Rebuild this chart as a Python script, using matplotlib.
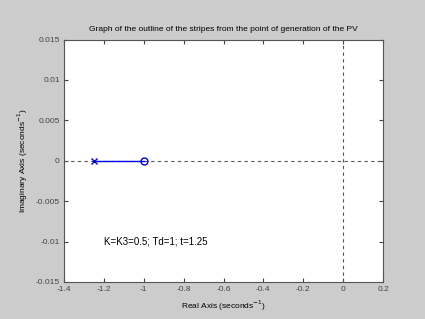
import matplotlib
matplotlib.use("Agg")
import matplotlib.pyplot as plt

# pole / zero data
pole_re = [-1.25]
pole_im = [0.0]
zero_re = [-1.0]
zero_im = [0.0]
locus_re = [-1.25, -1.0]
locus_im = [0.0, 0.0]

x_ticks = [-1.4, -1.2, -1, -0.8, -0.6, -0.4, -0.2, 0, 0.2]
x_labels = ["-1.4", "-1.2", "-1", "-0.8", "-0.6", "-0.4", "-0.2", "0", "0.2"]
y_ticks = [-0.015, -0.01, -0.005, 0, 0.005, 0.01, 0.015]
y_labels = ["-0.015", "-0.01", "-0.005", "0", "0.005", "0.01", "0.015"]

note = "K=K3=0.5; Td=1; t=1.25"

plt.rcParams['font.family'] = ['Liberation Sans', 'DejaVu Sans']

fig = plt.figure(figsize=(4.25, 3.19), dpi=100, facecolor='#cccccc')
ax = fig.add_axes([64 / 425, 1 - 282 / 319, (383 - 64) / 425, (282 - 39.5) / 319])
ax.set_facecolor('white')

ax.axhline(0, color='#555555', linestyle=(0, (3, 3)), linewidth=0.8)
ax.axvline(0, color='#555555', linestyle=(0, (3, 3)), linewidth=0.8)

ax.plot(locus_re, locus_im, color='#0000ee', linewidth=1.0)
ax.plot(pole_re, pole_im, 'x', color='#0000ee', markersize=4, markeredgewidth=1.0)
ax.plot(zero_re, zero_im, 'o', markerfacecolor='none', markeredgecolor='#0000ee', markersize=5, markeredgewidth=1.0)

ax.text(-1.2, -0.01, note, fontsize=7, va='center', ha='left')

ax.set_xlim(-1.4, 0.2)
ax.set_ylim(-0.015, 0.015)
ax.set_xticks(x_ticks)
ax.set_xticklabels(x_labels)
ax.set_yticks(y_ticks)
ax.set_yticklabels(y_labels)
ax.tick_params(direction='in', top=True, right=True, length=3, width=0.8,
               labelsize=6, colors='#444444', pad=3)
for sp in ax.spines.values():
    sp.set_color('#555555')
    sp.set_linewidth(0.8)

ax.set_title("Graph of the outline of the stripes from the point of generation of the PV",
             fontsize=6, pad=6)
ax.set_xlabel("Real Axis (seconds$^{-1}$)", fontsize=6, labelpad=4)
ax.set_ylabel("Imaginary Axis (seconds$^{-1}$)", fontsize=6, labelpad=4)

fig.savefig("out.png", dpi=100, facecolor=fig.get_facecolor())
